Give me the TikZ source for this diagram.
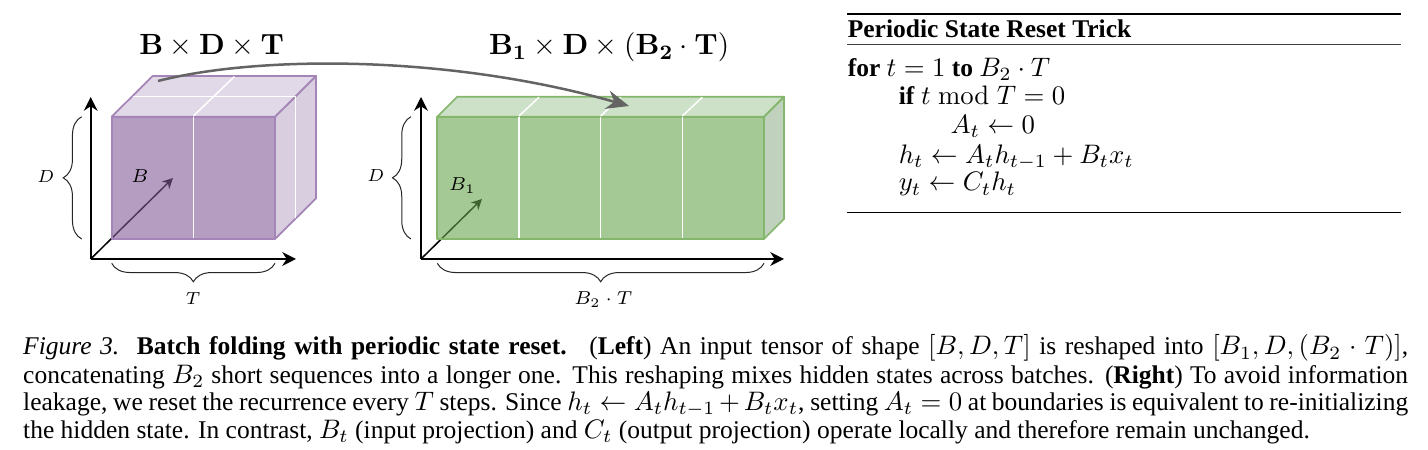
\RequirePackage{fix-cm}
\documentclass[tikz,border=0pt]{standalone}
\usepackage[no-math]{fontspec}
\setmainfont{Liberation Serif}
\usetikzlibrary{arrows.meta,decorations.pathreplacing}
\DeclareMathSizes{10.2}{10.7}{7.5}{5.5}
\definecolor{purp}{RGB}{132,92,152}
\definecolor{purptop}{RGB}{225,216,232}
\definecolor{purpside}{RGB}{216,206,224}
\definecolor{purpedge}{RGB}{165,133,184}
\definecolor{grn}{RGB}{105,165,77}
\definecolor{grntop}{RGB}{205,224,200}
\definecolor{grnside}{RGB}{192,210,190}
\definecolor{grnedge}{RGB}{132,183,107}
\definecolor{arrowgray}{RGB}{100,100,100}
\tikzset{
  axis/.style={line width=0.8pt,-{Stealth[length=5.5pt,width=5.5pt]}},
  diag/.style={line width=0.6pt,-{Stealth[length=4.2pt,width=4.2pt]}},
  face/.style={line width=0.7pt,line join=round},
  divider/.style={white,line width=0.6pt},
  dimbrace/.style={decorate,decoration={brace,amplitude=7.4pt},line width=0.4pt,black!85},
  lbl/.style={inner sep=0pt,anchor=base,font=\fontsize{7}{8}\selectfont},
  blbl/.style={inner sep=0pt,anchor=base,font=\fontsize{7.5}{9}\selectfont},
  ttl/.style={inner sep=0pt,anchor=base,font=\fontsize{11.7}{14}\selectfont},
  algtext/.style={inner sep=0pt,anchor=base west,font=\fontsize{10.2}{12}\selectfont},
  captext/.style={inner sep=0pt,anchor=base west,font=\fontsize{10.2}{12}\selectfont},
  rulestyle/.style={line width=0.55pt},
  flow/.style={arrowgray,line width=1pt,-{Stealth[length=9pt,width=7.5pt]}}
}
\begin{document}
\begin{tikzpicture}[x=0.4pt,y=-0.4pt]
\useasboundingbox (0,0) rectangle (1428,450);

% ---------------- Left cube: B x D x T ----------------
\coordinate (lo) at (90.7,259);
\coordinate (lup) at (90.7,97);
\coordinate (lright) at (296,259);
\coordinate (ldiag) at (173,178);
\draw[axis] (lo) -- (lup);
\draw[axis] (lo) -- (lright);
\draw[diag] (lo) -- (ldiag);

\draw[face,fill=purpside,draw=purpedge] (275,116.7) -- (316,76) -- (316,198.5) -- (275,239) -- cycle;
\draw[face,fill=purptop,draw=purpedge] (111.7,116.7) -- (152.7,76) -- (316,76) -- (275,116.7) -- cycle;
\fill[purp,fill opacity=0.6] (111.7,116.7) rectangle (275,239);
\draw[face,draw=purpedge] (111.7,116.7) rectangle (275,239);
\draw[divider] (193.35,117.5) -- (193.35,238.2);
\draw[divider] (193.35,116) -- (234.35,76.6);
\draw[divider] (132.6,96.3) -- (295.5,96.3) -- (295.5,218.2);

\draw[dimbrace] (81.7,239) -- (81.7,116.7);
\draw[dimbrace] (275,263.3) -- (111.7,263.3);
\node[lbl] (ld) at (45.7,182.7) {$D$};
\node[lbl] (lt) at (193,305) {$T$};
\node[blbl] (lb) at (140,182.7) {$B$};
\node[ttl] (ltitle) at (211.7,55) {$\mathbf{B}\times\mathbf{D}\times\mathbf{T}$};

% ---------------- Right cube: B1 x D x (B2 T) ----------------
\coordinate (ro) at (421,259);
\coordinate (rup) at (421,97);
\coordinate (rright) at (784,259);
\coordinate (rdiag) at (482,199);
\draw[axis] (ro) -- (rup);
\draw[axis] (ro) -- (rright);
\draw[diag] (ro) -- (rdiag);

\draw[face,fill=grnside,draw=grnedge] (764,116.7) -- (784,96.7) -- (784,219) -- (764,239) -- cycle;
\draw[face,fill=grntop,draw=grnedge] (437.3,116.7) -- (457.3,96.7) -- (784,96.7) -- (764,116.7) -- cycle;
\fill[grn,fill opacity=0.6] (437.3,116.7) rectangle (764,239);
\draw[face,draw=grnedge] (437.3,116.7) rectangle (764,239);
\foreach \xx in {519,600.65,682.3}{
  \draw[divider] (\xx,117.5) -- (\xx,238.2);
  \draw[divider] (\xx,116) -- (\xx+20,97.3);
}

\draw[dimbrace] (411,239) -- (411,116.7);
\draw[dimbrace] (764,263.3) -- (437.3,263.3);
\node[lbl] (rd) at (375.7,181.7) {$D$};
\node[blbl] (rt) at (603.3,305) {$B_2\cdot T$};
\node[blbl] (rb) at (462.3,190.7) {$B_1$};
\node[ttl] (rtitle) at (609.2,55) {$\mathbf{B_1}\times\mathbf{D}\times\mathbf{(B_2}\cdot\mathbf{T)}$};

% ---------------- curved reshape arrow ----------------
\coordinate (fs) at (158,81);
\coordinate (fe) at (629,106);
\draw[flow] (fs) .. controls (260,55) and (450,55) .. (fe);

% ---------------- Algorithm box ----------------
\coordinate (r1a) at (847.3,14);  \coordinate (r1b) at (1401,14);
\coordinate (r2a) at (847.3,44.3); \coordinate (r2b) at (1401,44.3);
\coordinate (r3a) at (847.3,212.7); \coordinate (r3b) at (1401,212.7);
\draw[rulestyle] (r1a) -- (r1b);
\draw[rulestyle,black!75] (r2a) -- (r2b);
\draw[rulestyle] (r3a) -- (r3b);
\node[algtext] (atitle) at (847.3,37.3) {\textbf{Periodic State Reset Trick}};
\node[algtext] (al1) at (847.3,76.9) {\textbf{for} $t=1$ \textbf{to} $B_2\cdot T$};
\node[algtext] (al2) at (898.3,105) {\textbf{if} $t \bmod T = 0$};
\node[algtext] (al3) at (950,133.3) {$A_t \leftarrow 0$};
\node[algtext] (al4) at (898.3,163.3) {$h_t \leftarrow A_t h_{t-1} + B_t x_t$};
\node[algtext] (al5) at (898.3,191) {$y_t \leftarrow C_t h_t$};

% ---------------- Caption ----------------
\node[captext] (c1) at (22.7,355) {\makebox[554pt][s]{\textit{Figure 3.}\hspace{7pt}\textbf{Batch folding with periodic state reset.}\hspace{3pt} (\textbf{Left}) An input tensor of shape $[B, D, T]$ is reshaped into $[B_1, D, (B_2 \cdot T)]$,}};
\node[captext] (c2) at (22.7,383.3) {\makebox[554pt][s]{concatenating $B_2$ short sequences into a longer one. This reshaping mixes hidden states across batches. (\textbf{Right}) To avoid information}};
\node[captext] (c3) at (22.7,410.7) {\makebox[554pt][s]{leakage, we reset the recurrence every $T$ steps. Since $h_t \leftarrow A_t h_{t-1} + B_t x_t$, setting $A_t = 0$ at boundaries is equivalent to re-initializing}};
\node[captext] (c4) at (22.7,438.3) {the hidden state. In contrast, $B_t$ (input projection) and $C_t$ (output projection) operate locally and therefore remain unchanged.};
\end{tikzpicture}
\end{document}
